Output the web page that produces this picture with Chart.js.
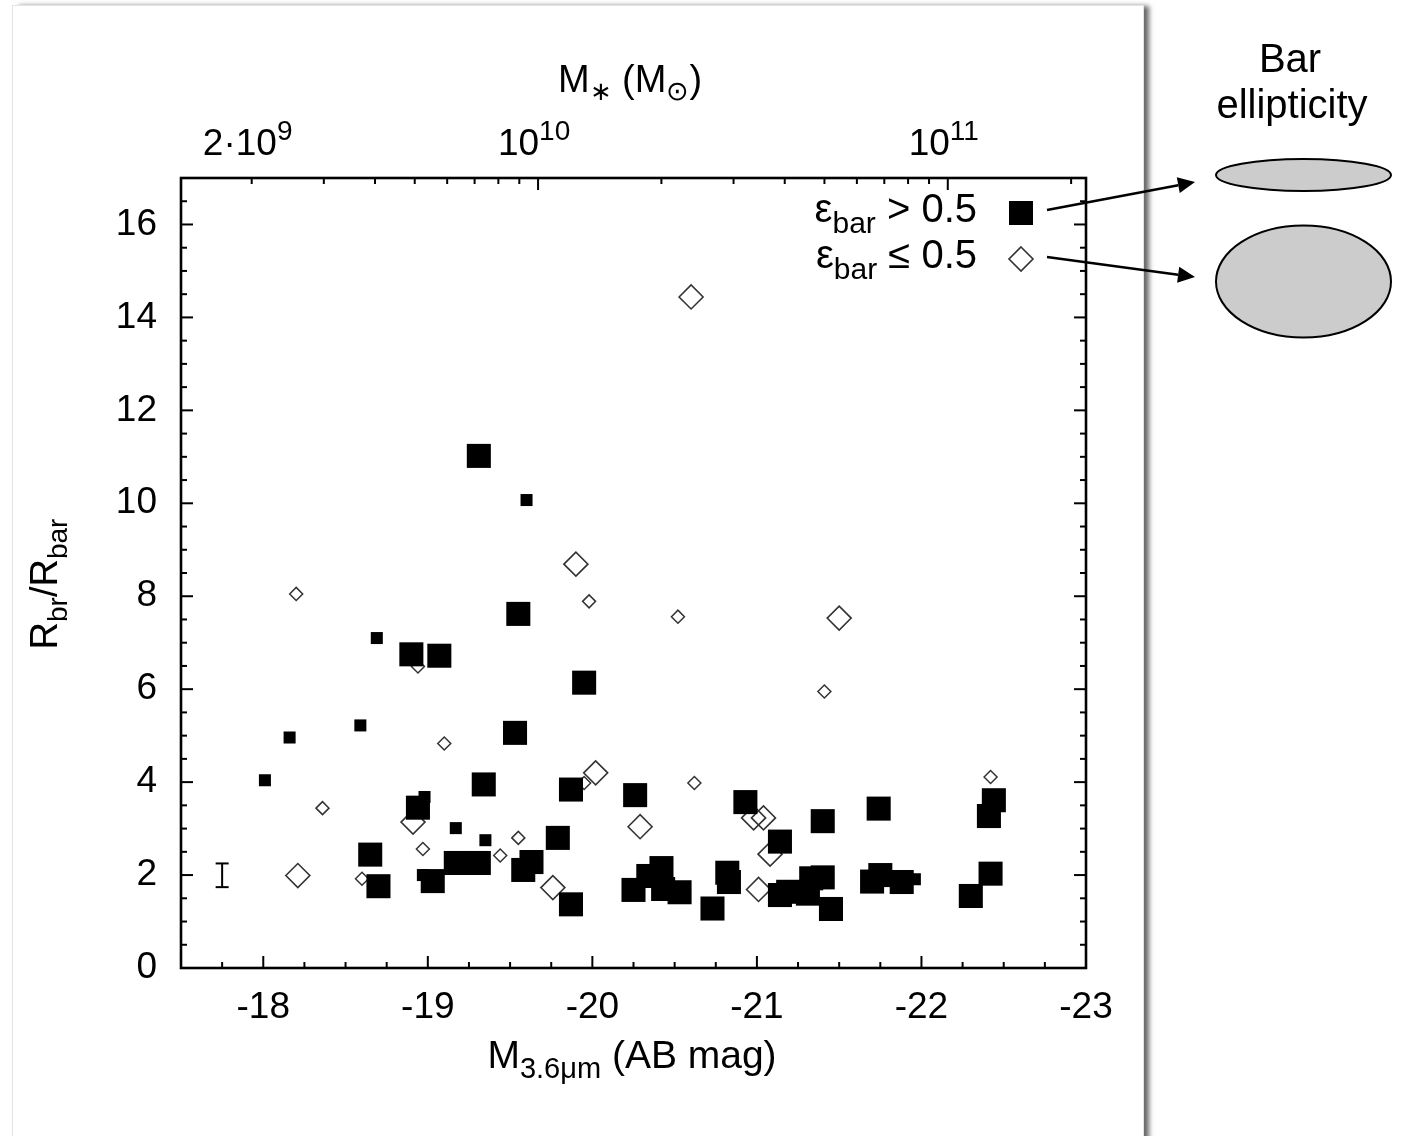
<!DOCTYPE html>
<html>
<head>
<meta charset="utf-8">
<script src="https://cdn.jsdelivr.net/npm/chart.js@4.4.1/dist/chart.umd.min.js"></script>
<style>
  body { margin: 0; background: #fff; width: 1401px; height: 1136px; overflow: hidden; position: relative; }
  #panel {
    position: absolute; left: 12px; top: 5px; width: 1130px; height: 1140px;
    background: #fff; border: 1px solid #e4e4e4;
    box-shadow: 6px 0 5px -1px rgba(0, 0, 0, 0.6);
  }
  #chart { position: absolute; left: 0; top: 0; }
</style>
</head>
<body>
<div id="panel"></div>
<canvas id="chart" width="1401" height="1136"></canvas>
<script>
// Axis ticks
const xTicks = [-18, -19, -20, -21, -22, -23];
const yTicks = [0, 2, 4, 6, 8, 10, 12, 14, 16];
const massMajor = [1e10, 1e11];
const massMinor = [2e9, 3e9, 4e9, 5e9, 6e9, 7e9, 8e9, 9e9,
                   2e10, 3e10, 4e10, 5e10, 6e10, 7e10, 8e10, 9e10, 2e11];
const massLabelAt = [2e9, 1e10, 1e11];
const massLabelBase = ['2·10', '10', '10'];
const massLabelExp = ['9', '10', '11'];

// eps_bar > 0.5, big squares
const strongX = [-19.31, -18.90, -19.07, -19.55, -19.95, -19.53, -19.34, -19.87, -20.26, -18.94,
                 -19.79, -18.65, -18.70, -19.03, -19.17, -19.31, -19.58, -19.63, -19.87, -20.93,
                 -21.14, -21.40, -21.74, -22.44, -22.41, -22.42, -22.30, -20.25, -20.34, -20.42,
                 -20.43, -20.53, -20.82, -20.83, -20.73, -21.14, -21.19, -21.33, -21.40, -21.31,
                 -21.45, -21.75, -21.70, -21.88];
const strongY = [11.02, 6.75, 6.72, 7.62, 6.14, 5.06, 3.95, 3.84, 3.72, 3.45,
                 2.80, 2.44, 1.76, 1.87, 2.26, 2.26, 2.11, 2.28, 1.37, 3.57,
                 2.72, 3.16, 3.43, 3.61, 3.27, 2.03, 1.55, 1.68, 1.98, 2.15,
                 1.70, 1.63, 2.05, 1.85, 1.28, 1.57, 1.64, 1.93, 1.95, 1.60,
                 1.27, 2.00, 1.86, 1.85];
// eps_bar > 0.5, small squares
const strongSmallX = [-19.60, -18.69, -18.59, -18.16, -18.01, -18.98, -19.17, -19.35, -18.97, -21.96];
const strongSmallY = [10.07, 7.10, 5.22, 4.96, 4.04, 3.68, 3.01, 2.75, 2.00, 1.91];
// eps_bar <= 0.5, big diamonds
const weakX = [-20.60, -19.90, -21.50, -20.02, -20.29, -18.91, -18.21, -19.76, -20.98, -21.04, -21.08, -21.01];
const weakY = [14.44, 8.69, 7.53, 4.20, 3.04, 3.14, 1.99, 1.73, 3.23, 3.23, 2.45, 1.69];
// eps_bar <= 0.5, small diamonds
const weakSmallX = [-18.20, -19.98, -18.94, -19.10, -18.36, -19.95, -18.97, -19.55, -19.44, -18.60,
                    -20.52, -21.41, -20.62, -22.42];
const weakSmallY = [8.05, 7.89, 6.49, 4.83, 3.44, 3.98, 2.56, 2.80, 2.42, 1.92,
                    7.56, 5.95, 3.98, 4.11];
// typical error bar
const errX = [-17.75];
const errLow = [1.74];
const errHigh = [2.25];

const FONT = '"Liberation Sans", Arial, Helvetica, sans-serif';
const MAG_AT_1E10 = -19.67;
const MAG_PER_DEX = 2.49;
const massToMag = m => MAG_AT_1E10 - MAG_PER_DEX * (Math.log10(m) - 10);

const pts = (xs, ys) => xs.map((x, i) => ({ x: x, y: ys[i] }));

// text with sub/superscripts: parts = [text, size, dy]
function richText(ctx, parts, x, y, align) {
  let w = 0;
  parts.forEach(p => { ctx.font = p[1] + 'px ' + FONT; w += ctx.measureText(p[0]).width; });
  let cx = align === 'center' ? x - w / 2 : (align === 'right' ? x - w : x);
  ctx.textAlign = 'left';
  ctx.textBaseline = 'alphabetic';
  parts.forEach(p => {
    ctx.font = p[1] + 'px ' + FONT;
    ctx.fillText(p[0], cx, y + p[2]);
    cx += ctx.measureText(p[0]).width;
  });
}

function arrow(ctx, x1, y1, x2, y2) {
  const a = Math.atan2(y2 - y1, x2 - x1);
  const len = 17, half = 8;
  const bx = x2 - len * Math.cos(a), by = y2 - len * Math.sin(a);
  ctx.beginPath();
  ctx.moveTo(x1, y1);
  ctx.lineTo(bx, by);
  ctx.stroke();
  ctx.beginPath();
  ctx.moveTo(x2, y2);
  ctx.lineTo(bx + half * Math.sin(a), by - half * Math.cos(a));
  ctx.lineTo(bx - half * Math.sin(a), by + half * Math.cos(a));
  ctx.closePath();
  ctx.fill();
}

// Frame and inward ticks, gnuplot style
const framePlugin = {
  id: 'frame',
  beforeDatasetsDraw(chart) {
    const ctx = chart.ctx, ca = chart.chartArea;
    const xs = chart.scales.x, ys = chart.scales.y;
    ctx.save();
    ctx.strokeStyle = '#000';
    ctx.lineWidth = 2;
    const tick = (x1, y1, x2, y2) => { ctx.beginPath(); ctx.moveTo(x1, y1); ctx.lineTo(x2, y2); ctx.stroke(); };

    // bottom: minor every 0.25, major each integer
    for (let v = -17.75; v > -23; v -= 0.25) {
      const px = xs.getPixelForValue(v);
      const major = Math.abs(v - Math.round(v)) < 1e-6;
      tick(px, ca.bottom, px, ca.bottom - (major ? 12 : 6));
    }
    // top: stellar mass
    massMinor.forEach(m => { const px = xs.getPixelForValue(massToMag(m)); tick(px, ca.top, px, ca.top + 6); });
    massMajor.forEach(m => { const px = xs.getPixelForValue(massToMag(m)); tick(px, ca.top, px, ca.top + 12); });
    // left and right
    for (let v = 0.5; v < 17; v += 0.5) {
      const py = ys.getPixelForValue(v);
      const len = v % 2 === 0 ? 12 : 6;
      tick(ca.left, py, ca.left + len, py);
      tick(ca.right, py, ca.right - len, py);
    }
    ctx.lineWidth = 2.6;
    ctx.strokeRect(ca.left, ca.top, ca.right - ca.left, ca.bottom - ca.top);
    ctx.restore();
  },
  afterDraw(chart) {
    const ctx = chart.ctx;
    const xs = chart.scales.x;
    ctx.save();
    ctx.fillStyle = '#000';

    // top axis labels
    massLabelAt.forEach((m, i) => {
      const px = xs.getPixelForValue(massToMag(m));
      richText(ctx, [[massLabelBase[i], 37, 0], [massLabelExp[i], 28, -15]], px - 4, 155, 'center');
    });
    richText(ctx, [['M', 38, 0], ['∗', 26, 8], [' (M', 38, 0], ['⊙', 27, 8], [')', 38, 0]], 630, 92, 'center');

    // bottom title
    richText(ctx, [['M', 39, 0], ['3.6μm', 29, 10], [' (AB mag)', 39, 0]], 632, 1068, 'center');

    // left title
    ctx.save();
    ctx.translate(57, 584);
    ctx.rotate(-Math.PI / 2);
    richText(ctx, [['R', 38, 0], ['br', 28, 10], ['/R', 38, 0], ['bar', 28, 10]], 0, 0, 'center');
    ctx.restore();

    // legend
    richText(ctx, [['ε', 40, 0], ['bar', 30, 11], [' > 0.5', 40, 0]], 977, 222, 'right');
    richText(ctx, [['ε', 40, 0], ['bar', 30, 11], [' ≤ 0.5', 40, 0]], 977, 268, 'right');
    ctx.fillRect(1009, 201, 24, 24);
    ctx.strokeStyle = '#333';
    ctx.lineWidth = 1.6;
    ctx.beginPath();
    ctx.moveTo(1021, 247); ctx.lineTo(1033, 259); ctx.lineTo(1021, 271); ctx.lineTo(1009, 259);
    ctx.closePath();
    ctx.stroke();

    // ellipticity sketch
    ctx.strokeStyle = '#000';
    ctx.lineWidth = 2.5;
    arrow(ctx, 1047, 210, 1195, 182);
    arrow(ctx, 1047, 257, 1195, 277);
    ctx.fillStyle = '#cccccc';
    ctx.lineWidth = 2;
    ctx.beginPath(); ctx.ellipse(1303.5, 175, 87.5, 16, 0, 0, Math.PI * 2); ctx.fill(); ctx.stroke();
    ctx.beginPath(); ctx.ellipse(1303.5, 281.5, 87.5, 56, 0, 0, Math.PI * 2); ctx.fill(); ctx.stroke();
    ctx.fillStyle = '#000';
    ctx.font = '40px ' + FONT;
    ctx.textAlign = 'center';
    ctx.fillText('Bar', 1290, 72);
    ctx.fillText('ellipticity', 1292, 118);
    ctx.restore();
  }
};

const tickFont = { family: FONT, size: 37 };

new Chart(document.getElementById('chart'), {
  type: 'scatter',
  data: {
    datasets: [
      { label: 'big squares', data: pts(strongX, strongY), pointStyle: 'rect', pointRadius: 17,
        backgroundColor: '#000', borderWidth: 0 },
      { label: 'small squares', data: pts(strongSmallX, strongSmallY), pointStyle: 'rect', pointRadius: 8.5,
        backgroundColor: '#000', borderWidth: 0 },
      { label: 'big diamonds', data: pts(weakX, weakY), pointStyle: 'rectRot', pointRadius: 12,
        backgroundColor: 'rgba(0,0,0,0)', borderColor: '#333', borderWidth: 1.6 },
      { label: 'small diamonds', data: pts(weakSmallX, weakSmallY), pointStyle: 'rectRot', pointRadius: 6.5,
        backgroundColor: 'rgba(0,0,0,0)', borderColor: '#333', borderWidth: 1.5 },
      { label: 'error', data: [{ x: errX[0], y: errLow[0] }, { x: errX[0], y: errHigh[0] }],
        showLine: true, borderColor: '#000', borderWidth: 2, pointStyle: 'line', pointRadius: 6.5,
        pointBorderWidth: 2, pointBorderColor: '#000' }
    ]
  },
  options: {
    responsive: false,
    animation: false,
    events: [],
    layout: { padding: { left: 0, right: 315, top: 0, bottom: 0 } },
    plugins: { legend: { display: false }, tooltip: { enabled: false } },
    scales: {
      x: {
        type: 'linear', position: 'bottom', min: -23, max: -17.5, reverse: true,
        afterBuildTicks: s => { s.ticks = xTicks.map(v => ({ value: v })); },
        afterFit: s => { s.height = 168; },
        grid: { display: false, drawTicks: false }, border: { display: false },
        ticks: { font: tickFont, color: '#000', padding: 18, maxRotation: 0, callback: v => String(v) }
      },
      x2: {
        type: 'linear', position: 'top', min: -23, max: -17.5, reverse: true,
        afterFit: s => { s.height = 178; },
        grid: { display: false, drawTicks: false }, border: { display: false },
        ticks: { display: false }
      },
      y: {
        type: 'linear', position: 'left', min: 0, max: 17,
        afterBuildTicks: s => { s.ticks = yTicks.map(v => ({ value: v })); },
        afterFit: s => { s.width = 181; },
        grid: { display: false, drawTicks: false }, border: { display: false },
        ticks: { font: tickFont, color: '#000', padding: 24, callback: v => String(v) }
      }
    }
  },
  plugins: [framePlugin]
});
</script>
</body>
</html>
